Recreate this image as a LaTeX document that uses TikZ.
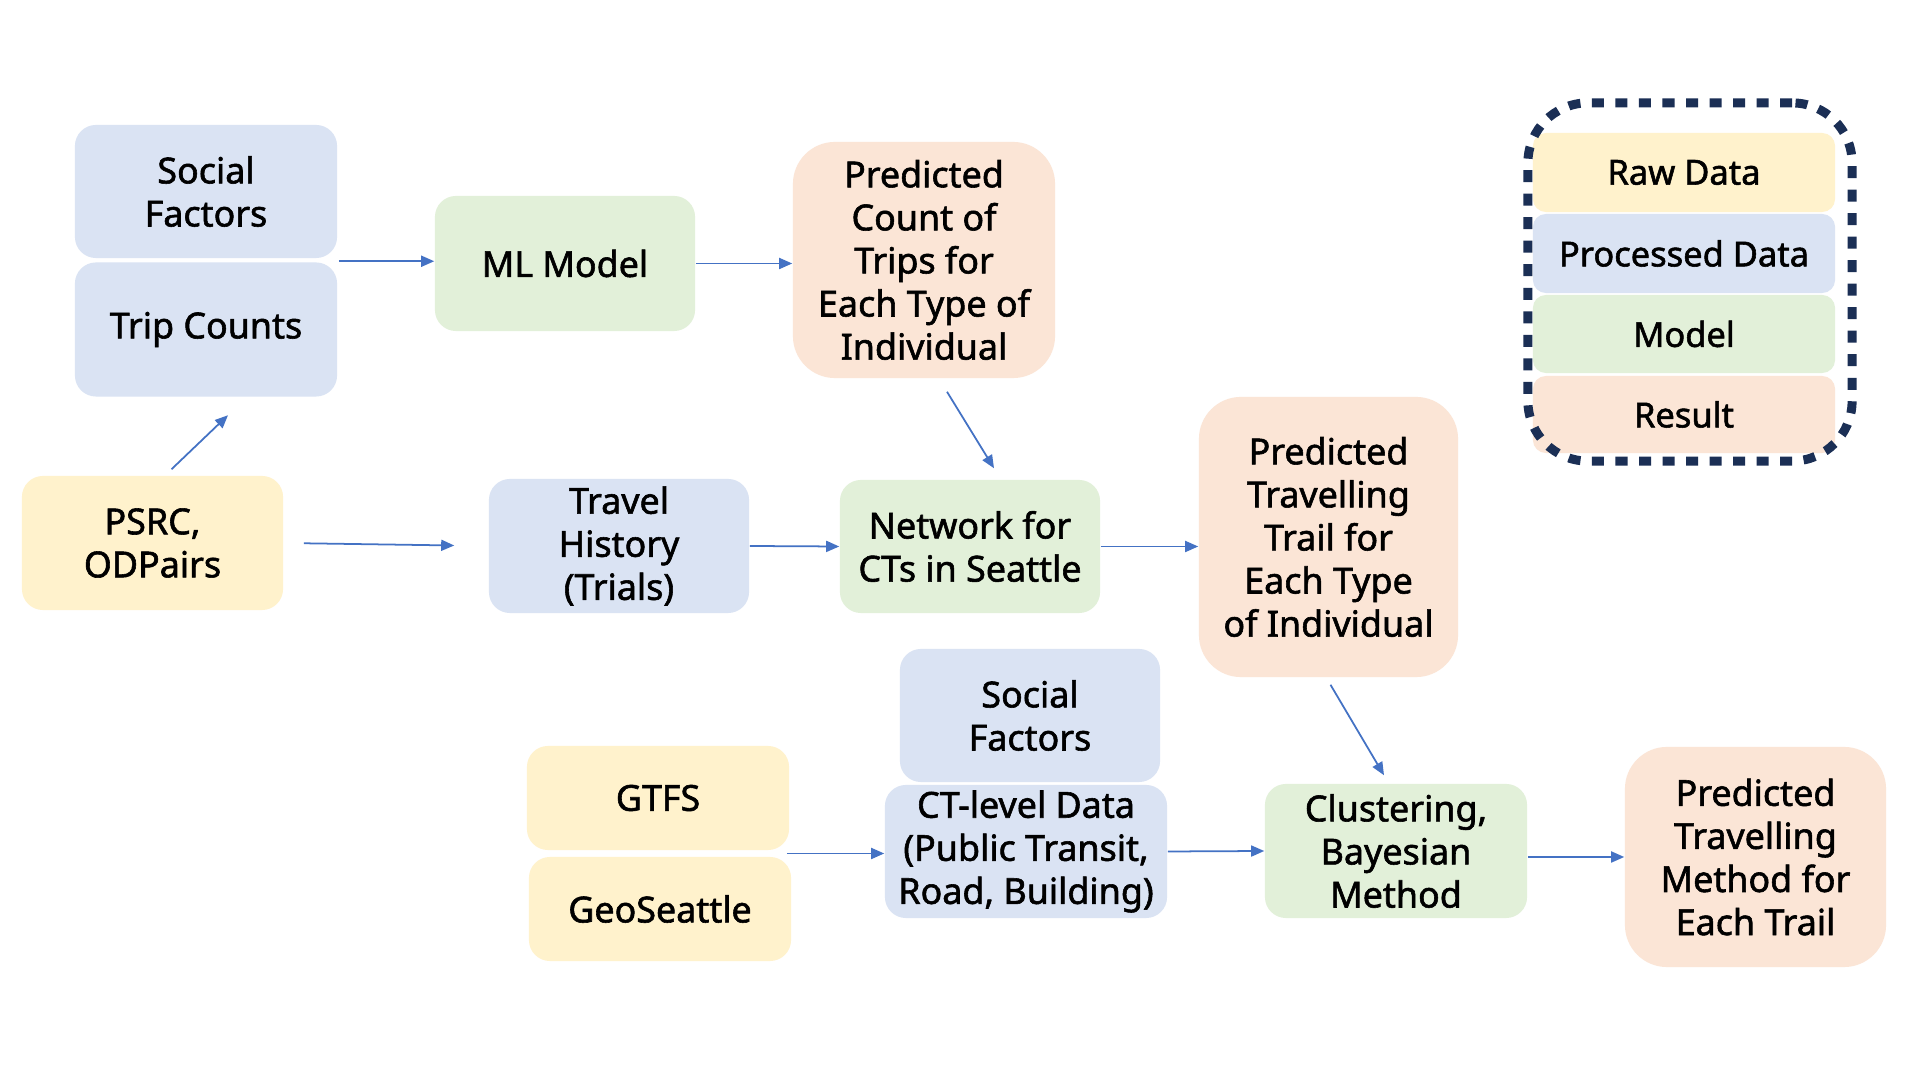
\documentclass[tikz,border=0pt]{standalone}
\usepackage{fontspec}
\newfontfamily\boxfont[FakeBold=1.6]{Noto Sans}
\usetikzlibrary{arrows.meta,calc}
\definecolor{rawc}{HTML}{FFF2CC}
\definecolor{procc}{HTML}{DAE3F3}
\definecolor{modc}{HTML}{E2F0D9}
\definecolor{resc}{HTML}{FBE5D6}
\definecolor{arrc}{HTML}{4472C4}
\definecolor{framec}{HTML}{1B2F55}
\tikzset{
  box/.style={rounded corners=0.21cm, inner sep=0pt, align=center,
    font=\boxfont\fontsize{10.2pt}{12.25pt}\selectfont},
  bigbox/.style={box, rounded corners=0.42cm},
  raw/.style={fill=rawc}, proc/.style={fill=procc},
  modl/.style={fill=modc}, resl/.style={fill=resc},
  legrow/.style={rounded corners=0.13cm, inner sep=0pt, align=center,
    minimum width=3.02cm, font=\boxfont\fontsize{9.8pt}{12pt}\selectfont},
  legendframe/.style={draw=framec, line width=0.09cm, rounded corners=0.6cm,
    dash pattern=on 0.12cm off 0.115cm, inner sep=0pt},
  arr/.style={draw=arrc, line width=0.5pt, -{Triangle[length=0.13cm,width=0.11cm]}}
}
\begin{document}
\begin{tikzpicture}[x=0.01cm,y=-0.01cm]
\useasboundingbox[fill=white] (0,0) rectangle (1920,1080);
% top row
\node[box,proc,minimum width=2.62cm,minimum height=1.33cm] (sf1) at (206,191.5) {Social\\Factors};
\node[box,proc,minimum width=2.62cm,minimum height=1.34cm] (tc) at (206,329.5) {\raisebox{-0.05cm}{Trip Counts}};
\node[box,modl,minimum width=2.60cm,minimum height=1.35cm] (ml) at (565,263.5) {ML Model};
\node[bigbox,resl,minimum width=2.62cm,minimum height=2.36cm] (pc) at (924,260) {Predicted\\Count of\\Trips for\\Each Type of\\Individual};
% middle row
\node[box,raw,minimum width=2.61cm,minimum height=1.34cm] (psrc) at (152.5,543) {PSRC,\\ODPairs};
\node[box,proc,minimum width=2.60cm,minimum height=1.34cm] (th) at (619,546) {Travel\\History\\(Trials)};
\node[box,modl,minimum width=2.60cm,minimum height=1.33cm] (net) at (970,546.5) {Network for\\CTs in Seattle};
\node[bigbox,resl,minimum width=2.59cm,minimum height=2.80cm] (pt) at (1328.5,537) {Predicted\\Travelling\\Trail for\\Each Type\\of Individual};
% bottom row
\node[box,proc,minimum width=2.60cm,minimum height=1.33cm] (sf2) at (1030,715.5) {Social\\Factors};
\node[box,proc,minimum width=2.82cm,minimum height=1.33cm] (ct) at (1026,851.5) {CT-level Data\\(Public Transit,\\Road, Building)};
\node[box,raw,minimum width=2.62cm,minimum height=1.04cm] (gtfs) at (658,798) {GTFS};
\node[box,raw,minimum width=2.62cm,minimum height=1.04cm] (geo) at (660,909) {GeoSeattle};
\node[box,modl,minimum width=2.62cm,minimum height=1.34cm] (cl) at (1396,851) {Clustering,\\Bayesian\\Method};
\node[bigbox,resl,minimum width=2.61cm,minimum height=2.20cm] (pm) at (1755.5,857) {Predicted\\Travelling\\Method for\\Each Trail};
% legend
\node[legrow,raw,minimum height=0.79cm] (leg1) at (1684,172.5) {Raw Data};
\node[legrow,proc,minimum height=0.79cm] (leg2) at (1684,253.5) {Processed Data};
\node[legrow,modl,minimum height=0.78cm] (leg3) at (1684,334) {Model};
\node[legrow,resl,minimum height=0.77cm] (leg4) at (1684,414.5) {Result};
\node[legendframe,minimum width=3.24cm,minimum height=3.58cm] (legend) at (1690,282) {};
% connectors
\coordinate (j1) at ($(sf1.south east)!0.5!(tc.north east)+(1,1)$);
\coordinate (j2) at ($(gtfs.south east)!0.5!(geo.north east)+(-4,0)$);
\draw[arr] (j1) -- (j1 -| ml.west);
\draw[arr] (ml.east) -- (ml.east -| pc.west);
\draw[arr] ($(psrc.north)+(19,-6)$) -- ($(tc.south)+(22,18)$);
\draw[arr, shorten <=0.2cm, shorten >=0.34cm] (psrc.east) -- (th.west);
\draw[arr] ($(pc.south)+(23,13)$) -- ($(net.north)+(24,-11)$);
\draw[arr] (th.east) -- (net.west);
\draw[arr] (net.east) -- (net.east -| pt.west);
\draw[arr] ($(pt.south)+(2,7)$) -- ($(cl.north)+(-12,-8)$);
\draw[arr] (j2) -- (j2 -| ct.west);
\draw[arr] (ct.east) -- (cl.west);
\draw[arr] (cl.east |- pm.west) -- (pm.west);
\end{tikzpicture}
\end{document}
